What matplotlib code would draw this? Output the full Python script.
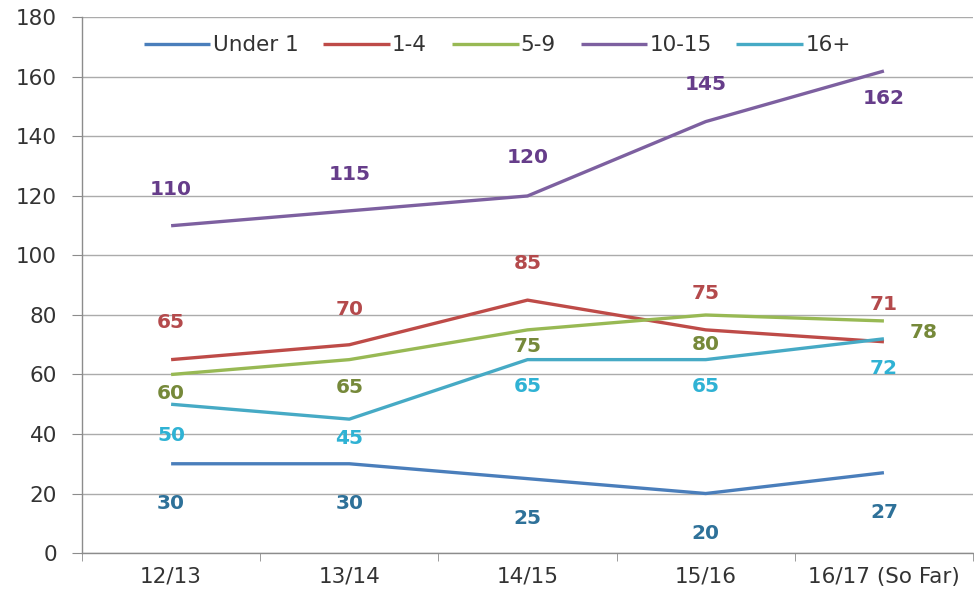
import matplotlib
matplotlib.use("Agg")
import matplotlib.pyplot as plt

# seasons and counts per age group
seasons = ["12/13", "13/14", "14/15", "15/16", "16/17 (So Far)"]
under_1 = [30, 30, 25, 20, 27]
age_1_4 = [65, 70, 85, 75, 71]
age_5_9 = [60, 65, 75, 80, 78]
age_10_15 = [110, 115, 120, 145, 162]
age_16_plus = [50, 45, 65, 65, 72]

series = [
    ("Under 1", under_1, "#4A7EBB", "#2E7199"),
    ("1-4", age_1_4, "#BE4B48", "#B44A4C"),
    ("5-9", age_5_9, "#98B954", "#76893A"),
    ("10-15", age_10_15, "#7D60A0", "#663D8A"),
    ("16+", age_16_plus, "#46AAC5", "#2FB2D4"),
]

# label offsets in pixels (dx, dy) for each point of each series
label_offsets = {
    "Under 1": [(0, -40)] * 5,
    "1-4": [(0, 37), (0, 35), (0, 37), (0, 36), (0, 37)],
    "5-9": [(0, -19), (0, -28), (0, -17), (0, -30), (40, -12)],
    "10-15": [(0, 36), (0, 36), (0, 38), (0, 37), (0, -27)],
    "16+": [(0, -31), (0, -19), (0, -27), (0, -27), (0, -30)],
}

plt.rcParams["font.family"] = ["DejaVu Sans"]

fig = plt.figure(figsize=(9.74, 6.10), dpi=100)
ax = fig.add_axes([0.0842, 0.0934, 0.9148, 0.878])

x = list(range(len(seasons)))
for name, vals, color, label_color in series:
    ax.plot(x, vals, color=color, lw=2.4, label=name, solid_capstyle="butt")
    for xi, v, (dx, dy) in zip(x, vals, label_offsets[name]):
        ax.annotate(str(v), (xi, v), xytext=(dx, dy), textcoords="offset pixels",
                    ha="center", va="center", fontsize=14.5, fontweight="bold",
                    color=label_color)

ax.set_xlim(-0.5, len(seasons) - 0.5)
ax.set_ylim(0, 180)
ax.set_yticks(range(0, 181, 20))
ax.set_xticks(x)
ax.set_xticklabels(seasons)
ax.set_xticks([i - 0.5 for i in range(len(seasons) + 1)], minor=True)

ax.grid(axis="y", color="#ABABAB", lw=1.0)
ax.set_axisbelow(True)
for side in ["top", "right"]:
    ax.spines[side].set_visible(False)
for side in ["left", "bottom"]:
    ax.spines[side].set_color("#8C8C8C")
    ax.spines[side].set_linewidth(1.0)

ax.tick_params(axis="y", length=7, color="#8C8C8C", labelsize=15.5,
               labelcolor="#333333", pad=11)
ax.tick_params(axis="x", which="major", length=0, labelsize=15.5,
               labelcolor="#333333", pad=10)
ax.tick_params(axis="x", which="minor", length=6, color="#8C8C8C")

ax.legend(loc="center", bbox_to_anchor=(0.466, 0.948), ncol=5, frameon=False,
          fontsize=15.5, handlelength=3.1, handletextpad=0.1,
          columnspacing=1.15, labelcolor="#333333")

fig.savefig("out.png", dpi=100)
